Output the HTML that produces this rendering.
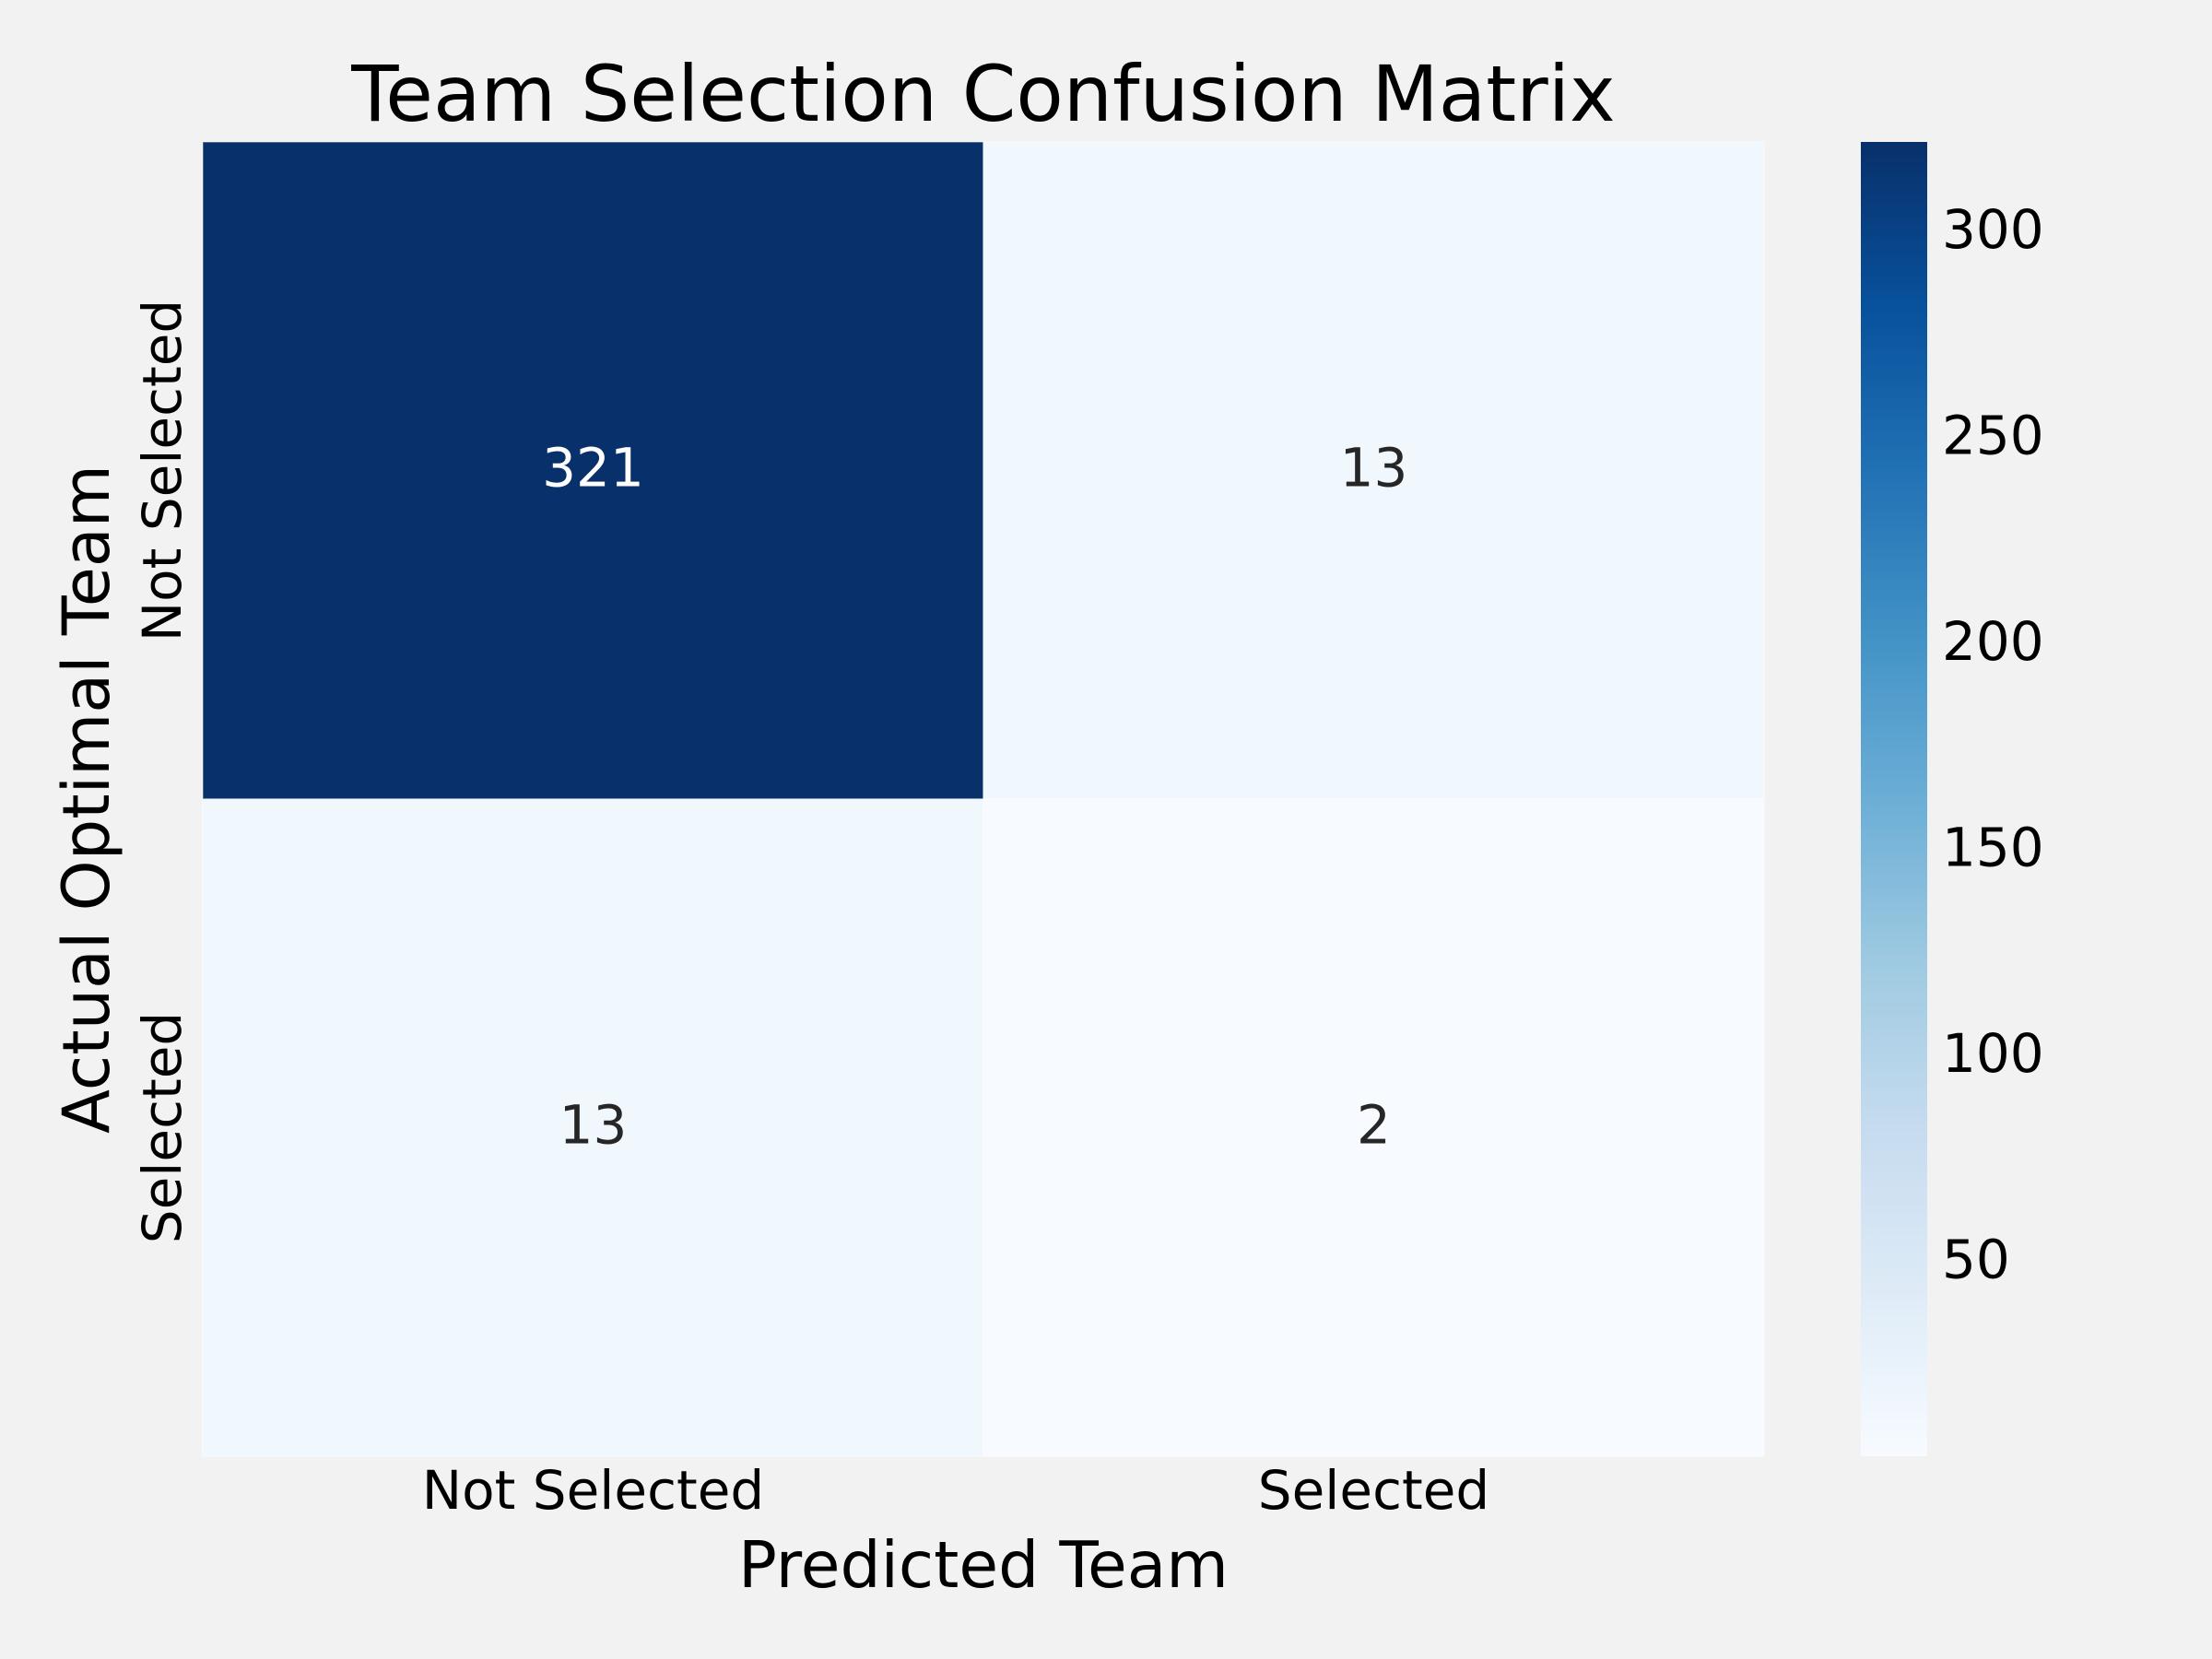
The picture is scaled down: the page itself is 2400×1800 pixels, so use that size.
<!DOCTYPE html>
<html><head><meta charset="utf-8"><style>
html,body{margin:0;padding:0;background:#f2f2f2;}
svg{display:block;font-family:"DejaVu Sans","Liberation Sans",sans-serif;}
</style></head><body>
<svg id="c" width="2400" height="1800" viewBox="0 0 2400 1800" xmlns="http://www.w3.org/2000/svg">
<defs>
<linearGradient id="blues" x1="0" y1="1" x2="0" y2="0">
<stop offset="0" stop-color="#f7fbff"/><stop offset="0.125" stop-color="#deebf7"/><stop offset="0.25" stop-color="#c6dbef"/><stop offset="0.375" stop-color="#9ecae1"/><stop offset="0.5" stop-color="#6baed6"/><stop offset="0.625" stop-color="#4292c6"/><stop offset="0.75" stop-color="#2171b5"/><stop offset="0.875" stop-color="#08519c"/><stop offset="1" stop-color="#08306b"/>
</linearGradient>
</defs>
<rect width="2400" height="1800" fill="#f2f2f2"/>
<text x="1067" y="131" font-size="84" text-anchor="middle" fill="#000">Team Selection Confusion Matrix</text>
<g id="cells"></g>
<rect x="2019" y="154" width="72" height="1426" fill="url(#blues)"/>
<g id="cbticks"></g>
<g id="xt"></g>
<g id="yt"></g>
<text x="1067" y="1722" font-size="69.5" text-anchor="middle" fill="#000">Predicted Team</text>
<text transform="translate(118,867) rotate(-90)" font-size="70" text-anchor="middle" fill="#000">Actual Optimal Team</text>
</svg>
<script>
const categories = ["Not Selected", "Selected"];
const row0 = [321, 13];
const row1 = [13, 2];
const cbTicks = [50, 100, 150, 200, 250, 300];

const rows = [row0, row1];
const NS = "http://www.w3.org/2000/svg";
const L = 220, R = 1914, T = 154, B = 1580;
const CBT = 154, CBB = 1580;
const all = rows.flat();
const vmin = Math.min(...all), vmax = Math.max(...all);
const stops = [[0,[247,251,255]],[0.125,[222,235,247]],[0.25,[198,219,239]],[0.375,[158,202,225]],[0.5,[107,174,214]],[0.625,[66,146,198]],[0.75,[33,113,181]],[0.875,[8,81,156]],[1,[8,48,107]]];
function color(v){
  let t = (v - vmin) / (vmax - vmin); t = Math.max(0, Math.min(1, t));
  for (let i = 1; i < stops.length; i++) {
    if (t <= stops[i][0]) {
      const a = stops[i-1], b = stops[i], f = (t - a[0]) / (b[0] - a[0]);
      const c = a[1].map((x, k) => Math.round(x + (b[1][k] - x) * f));
      return `rgb(${c[0]},${c[1]},${c[2]})`;
    }
  }
  return "rgb(8,48,107)";
}
const nC = categories.length;
const cw = (R - L) / nC, ch = (B - T) / rows.length;
const xPos = i => L + i * cw;
const yPos = j => T + j * ch;
const cbY = v => CBB - (v - vmin) / (vmax - vmin) * (CBB - CBT);
function mk(tag, attrs, parent, text){
  const e = document.createElementNS(NS, tag);
  for (const k in attrs) e.setAttribute(k, attrs[k]);
  if (text !== undefined) e.textContent = text;
  parent.appendChild(e); return e;
}
const cells = document.getElementById("cells");
rows.forEach((r, j) => r.forEach((v, i) => {
  const rc = mk("rect", {x: xPos(i), y: yPos(j), width: cw, height: ch, fill: color(v), stroke: "#ffffff", "stroke-opacity": 0.4, "stroke-width": 1.5}, cells);
  
  
  const t = (v - vmin) / (vmax - vmin);
  const tx = mk("text", {x: xPos(i) + cw/2, y: yPos(j) + ch/2 + 17, "font-size": 58, "text-anchor": "middle", fill: t > 0.5 ? "#ffffff" : "#262626"}, cells, String(v));
  
  
}));
const cbg = document.getElementById("cbticks");
cbTicks.forEach(v => {
  const t = mk("text", {x: 2107, y: cbY(v) + 21, "font-size": 58, fill: "#000"}, cbg, String(v));
  
  
});
const xt = document.getElementById("xt"), yt = document.getElementById("yt");
categories.forEach((c, i) => {
  const t = mk("text", {x: xPos(i) + cw/2, y: 1637, "font-size": 58, "text-anchor": "middle", fill: "#000"}, xt, c);
  
  
  const y = mk("text", {transform: `translate(196,${yPos(i) + ch/2}) rotate(-90)`, "font-size": 58, "text-anchor": "middle", fill: "#000"}, yt, c);
  
  
});
</script>
</body></html>
